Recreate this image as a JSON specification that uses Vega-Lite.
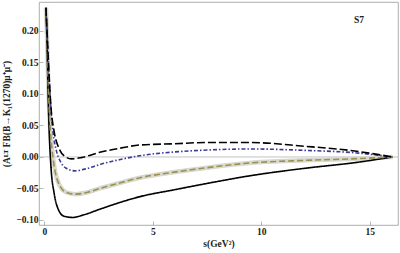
{
  "$schema": "https://vega.github.io/schema/vega-lite/v6.json",
  "width": 359,
  "height": 223,
  "autosize": {"type": "none"},
  "padding": {"left": 39, "top": 2, "right": 2, "bottom": 28},
  "background": "white",
  "config": {
    "view": {"stroke": "#999999", "strokeWidth": 0.8},
    "axis": {
      "labelFont": "Liberation Serif", "labelFontWeight": "bold", "labelFontSize": 9.5, "labelColor": "#222222",
      "titleFont": "Liberation Serif", "titleFontWeight": "bold", "titleFontSize": 9.5, "titleColor": "#222222",
      "domain": false, "grid": false, "tickColor": "#999999", "tickSize": -4, "tickWidth": 0.7, "labelOverlap": false
    }
  },
  "datasets": {
    "curves": [
      {"s": 0.07, "v": 0.237, "c": "solid"}, {"s": 0.12, "v": 0.18, "c": "solid"}, {"s": 0.17, "v": 0.1, "c": "solid"},
      {"s": 0.22, "v": 0.04, "c": "solid"}, {"s": 0.3, "v": -0.015, "c": "solid"}, {"s": 0.45, "v": -0.058, "c": "solid"},
      {"s": 0.65, "v": -0.084, "c": "solid"}, {"s": 0.9, "v": -0.094, "c": "solid"}, {"s": 1.3, "v": -0.096, "c": "solid"},
      {"s": 1.8, "v": -0.092, "c": "solid"}, {"s": 2.55, "v": -0.083, "c": "solid"}, {"s": 3.5, "v": -0.072, "c": "solid"},
      {"s": 4.4, "v": -0.063, "c": "solid"}, {"s": 6.0, "v": -0.052, "c": "solid"}, {"s": 7.5, "v": -0.042, "c": "solid"},
      {"s": 9.45, "v": -0.03, "c": "solid"}, {"s": 12.0, "v": -0.018, "c": "solid"}, {"s": 14.4, "v": -0.0086, "c": "solid"},
      {"s": 16.05, "v": 0.0, "c": "solid"},

      {"s": 0.07, "v": 0.237, "c": "olive"}, {"s": 0.12, "v": 0.19, "c": "olive"}, {"s": 0.17, "v": 0.125, "c": "olive"},
      {"s": 0.25, "v": 0.055, "c": "olive"}, {"s": 0.35, "v": 0.012, "c": "olive"}, {"s": 0.5, "v": -0.024, "c": "olive"},
      {"s": 0.7, "v": -0.045, "c": "olive"}, {"s": 1.0, "v": -0.056, "c": "olive"}, {"s": 1.45, "v": -0.059, "c": "olive"},
      {"s": 2.0, "v": -0.056, "c": "olive"}, {"s": 2.55, "v": -0.05, "c": "olive"}, {"s": 3.5, "v": -0.041, "c": "olive"},
      {"s": 4.4, "v": -0.033, "c": "olive"}, {"s": 6.0, "v": -0.024, "c": "olive"}, {"s": 7.5, "v": -0.017, "c": "olive"},
      {"s": 9.45, "v": -0.0096, "c": "olive"}, {"s": 12.0, "v": -0.0054, "c": "olive"}, {"s": 14.4, "v": -0.0027, "c": "olive"},
      {"s": 16.05, "v": 0.0, "c": "olive"},

      {"s": 0.07, "v": 0.237, "c": "blue"}, {"s": 0.12, "v": 0.2, "c": "blue"}, {"s": 0.2, "v": 0.135, "c": "blue"},
      {"s": 0.3, "v": 0.075, "c": "blue"}, {"s": 0.4, "v": 0.038, "c": "blue"}, {"s": 0.55, "v": 0.01, "c": "blue"},
      {"s": 0.75, "v": -0.008, "c": "blue"}, {"s": 1.0, "v": -0.018, "c": "blue"}, {"s": 1.4, "v": -0.022, "c": "blue"},
      {"s": 2.0, "v": -0.018, "c": "blue"}, {"s": 2.55, "v": -0.012, "c": "blue"}, {"s": 3.5, "v": -0.004, "c": "blue"},
      {"s": 4.4, "v": 0.002, "c": "blue"}, {"s": 6.0, "v": 0.008, "c": "blue"}, {"s": 7.5, "v": 0.011, "c": "blue"},
      {"s": 9.45, "v": 0.0127, "c": "blue"}, {"s": 12.0, "v": 0.0105, "c": "blue"}, {"s": 14.4, "v": 0.0064, "c": "blue"},
      {"s": 16.05, "v": 0.0, "c": "blue"},

      {"s": 0.07, "v": 0.237, "c": "dashed"}, {"s": 0.12, "v": 0.2, "c": "dashed"}, {"s": 0.2, "v": 0.14, "c": "dashed"},
      {"s": 0.3, "v": 0.08, "c": "dashed"}, {"s": 0.45, "v": 0.04, "c": "dashed"}, {"s": 0.68, "v": 0.013, "c": "dashed"},
      {"s": 0.9, "v": 0.002, "c": "dashed"}, {"s": 1.25, "v": -0.003, "c": "dashed"}, {"s": 1.7, "v": -0.001, "c": "dashed"},
      {"s": 2.55, "v": 0.0074, "c": "dashed"}, {"s": 3.5, "v": 0.014, "c": "dashed"}, {"s": 4.4, "v": 0.019, "c": "dashed"},
      {"s": 6.0, "v": 0.021, "c": "dashed"}, {"s": 7.5, "v": 0.023, "c": "dashed"}, {"s": 9.45, "v": 0.023, "c": "dashed"},
      {"s": 12.0, "v": 0.017, "c": "dashed"}, {"s": 14.4, "v": 0.009, "c": "dashed"}, {"s": 16.05, "v": 0.0, "c": "dashed"}
    ]
  },
  "encoding": {
    "x": {"field": "s", "type": "quantitative",
          "scale": {"domain": [-0.25, 16.3], "nice": false, "zero": false},
          "axis": {"values": [0, 5, 10, 15], "title": "s(GeV²)", "titlePadding": 3, "labelPadding": 5, "labelOverlap": false}},
    "y": {"field": "v", "type": "quantitative",
          "scale": {"domain": [-0.108, 0.246], "nice": false, "zero": false},
          "axis": {"values": [-0.1, -0.05, 0, 0.05, 0.1, 0.15, 0.2], "format": ".2f", "labelPadding": 5, "labelOverlap": false,
                   "title": "(Aᴸᵀ FB(B→K₁(1270)μ⁺μ⁻)", "titlePadding": 4}}
  },
  "layer": [
    {
      "data": {"values": [{"s": -0.25, "v": 0}, {"s": 16.3, "v": 0}]},
      "mark": {"type": "line", "color": "#b5b5b5", "strokeWidth": 0.8}
    },
    {
      "data": {"name": "curves"},
      "transform": [{"filter": "datum.c == 'olive'"}],
      "mark": {"type": "line", "interpolate": "monotone", "color": "#d8d8d0", "strokeWidth": 4.5}
    },
    {
      "data": {"name": "curves"},
      "mark": {"type": "line", "interpolate": "monotone", "strokeWidth": 1.6},
      "encoding": {
        "detail": {"field": "c"},
        "color": {"field": "c", "type": "nominal", "legend": null,
                  "scale": {"domain": ["solid", "olive", "blue", "dashed"], "range": ["#000000", "#9a9250", "#3a3a96", "#000000"]}},
        "strokeDash": {"field": "c", "type": "nominal", "legend": null,
                       "scale": {"domain": ["solid", "olive", "blue", "dashed"], "range": [[1, 0], [6, 3], [4, 2, 1.5, 2], [8, 3]]}}
      }
    },
    {
      "data": {"values": [{"s": 14.5, "v": 0.217, "t": "S7"}]},
      "mark": {"type": "text", "font": "Liberation Serif", "fontWeight": "bold", "fontSize": 9.5, "color": "#222222"},
      "encoding": {"text": {"field": "t"}}
    }
  ]
}
